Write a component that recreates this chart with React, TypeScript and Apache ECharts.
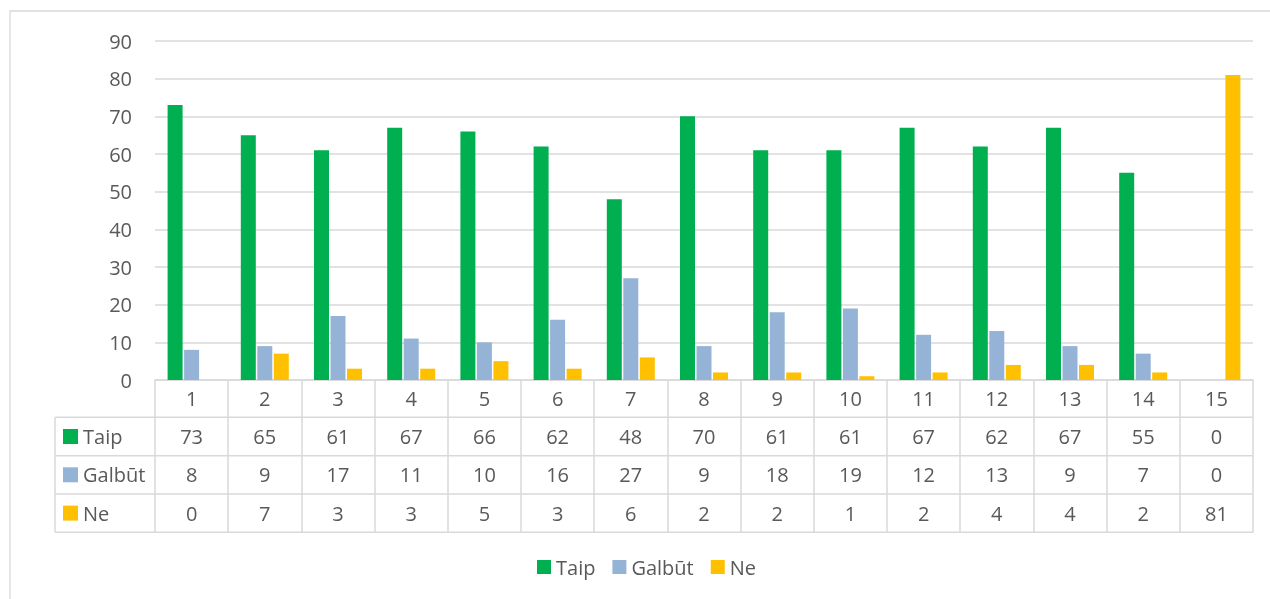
import React, { useEffect, useRef } from "react";
import * as echarts from "echarts";

const categories = ["1", "2", "3", "4", "5", "6", "7", "8", "9", "10", "11", "12", "13", "14", "15"];
const seriesNames = ["Taip", "Galbūt", "Ne"];
const taip = [73, 65, 61, 67, 66, 62, 48, 70, 61, 61, 67, 62, 67, 55, 0];
const galbut = [8, 9, 17, 11, 10, 16, 27, 9, 18, 19, 12, 13, 9, 7, 0];
const ne = [0, 7, 3, 3, 5, 3, 6, 2, 2, 1, 2, 4, 4, 2, 81];
const colors = ["#00B050", "#95B3D7", "#FFC000"];

const FONT = "'Open Sans', sans-serif";
const TXT = "#595959";
const LINE = "#d9d9d9";

export default function App() {
  const ref = useRef<HTMLDivElement>(null);
  useEffect(() => {
    if (!ref.current) return;
    const chart = echarts.init(ref.current, undefined, { renderer: "svg" });
    const gridLeft = 155;
    const gridRight = 1253;
    const axisY = 380;
    const rowLines = [417.3, 455.7, 494, 532.3];
    const rowCenters = [398.6, 436.5, 474.8, 513.1];
    const tableLeft = 55;
    const data = [taip, galbut, ne];

    const graphics: any[] = [];
    graphics.push({
      type: "rect",
      shape: { x: 10, y: 11, width: 1400, height: 800 },
      style: { fill: "none", stroke: LINE, lineWidth: 1.3 },
      silent: true,
    });
    rowLines.forEach((y) => {
      graphics.push({
        type: "line",
        shape: { x1: tableLeft, y1: y, x2: gridRight, y2: y },
        style: { stroke: LINE, lineWidth: 1.5 },
      });
    });
    graphics.push({
      type: "line",
      shape: { x1: tableLeft, y1: rowLines[0], x2: tableLeft, y2: rowLines[3] },
      style: { stroke: LINE, lineWidth: 1.5 },
    });
    seriesNames.forEach((name, i) => {
      const cy = rowCenters[i + 1];
      graphics.push({
        type: "rect",
        shape: { x: 63, y: cy - 7.5, width: 15, height: 15 },
        style: { fill: colors[i] },
      });
      graphics.push({
        type: "text",
        x: 83,
        y: cy,
        style: { text: name, fill: TXT, font: `20px ${FONT}`, verticalAlign: "middle", align: "left" },
      });
    });

    const mkRowAxis = (idx: number) => ({
      type: "category",
      data: categories,
      position: "bottom",
      axisLine: { show: false },
      axisTick: { show: false },
      axisLabel: {
        interval: 0,
        margin: rowCenters[idx] - axisY,
        verticalAlign: "middle",
        color: TXT,
        fontSize: 20,
        fontFamily: FONT,
        formatter: (_v: string, i: number) => (idx === 0 ? categories[i] : String(data[idx - 1][i])),
      },
    });

    chart.setOption({
      animation: false,
      color: colors,
      textStyle: { fontFamily: FONT },
      grid: { left: gridLeft, right: 1270 - gridRight, top: 41, bottom: 599 - axisY, containLabel: false },
      legend: {
        data: seriesNames,
        left: 537,
        top: 557,
        padding: 0,
        icon: "rect",
        itemWidth: 14,
        itemHeight: 14,
        itemGap: 17,
        textStyle: { color: TXT, fontSize: 20, fontFamily: FONT },
      },
      xAxis: [
        {
          type: "category",
          data: categories,
          axisLine: { show: true, lineStyle: { color: LINE, width: 1.5 } },
          axisTick: { show: true, length: rowLines[3] - axisY, lineStyle: { color: LINE, width: 1.5 } },
          axisLabel: { show: false },
        },
        mkRowAxis(0),
        mkRowAxis(1),
        mkRowAxis(2),
        mkRowAxis(3),
      ],
      yAxis: {
        type: "value",
        min: 0,
        max: 90,
        interval: 10,
        axisLine: { show: false },
        axisTick: { show: false },
        splitLine: { lineStyle: { color: LINE, width: 1.5 } },
        axisLabel: { color: TXT, fontSize: 20, fontFamily: FONT, margin: 23 },
      },
      series: seriesNames.map((name, i) => ({
        name,
        type: "bar",
        data: data[i],
        barWidth: 15,
        barGap: "10%",
        itemStyle: { color: colors[i] },
      })),
      graphic: graphics,
    });
    return () => chart.dispose();
  }, []);
  return <div ref={ref} style={{ position: "fixed", left: 0, top: 0, width: 1270, height: 599 }} />;
}
